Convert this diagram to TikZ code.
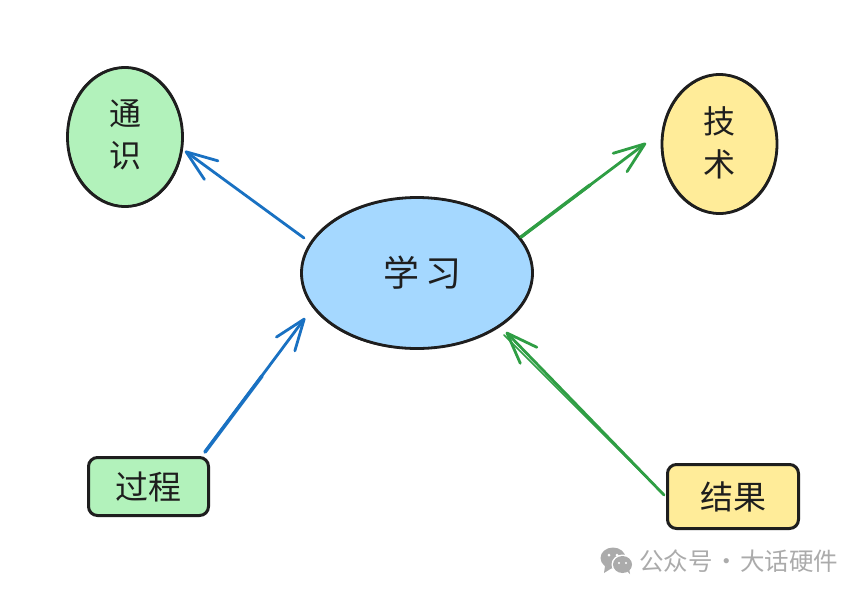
\documentclass[tikz,border=0pt]{standalone}
\usepackage{fontspec}
\setmainfont{Noto Sans CJK SC}
\usetikzlibrary{shapes.geometric,arrows.meta}
\definecolor{inkc}{HTML}{1E1E1E}
\definecolor{greenf}{HTML}{B2F2BB}
\definecolor{yellowf}{HTML}{FFEC99}
\definecolor{bluef}{HTML}{A5D8FF}
\definecolor{bluel}{HTML}{1971C2}
\definecolor{greenl}{HTML}{2F9E44}
\definecolor{markc}{HTML}{ABABAB}
\tikzset{
  roundnode/.style={ellipse,draw=inkc,line width=2.8pt,inner sep=0pt,text=inkc,align=center,font=\fontsize{32}{43}\selectfont},
  boxnode/.style={rectangle,rounded corners=9pt,draw=inkc,line width=3pt,inner sep=0pt,text=inkc,font=\fontsize{33}{38}\selectfont},
  conn/.style={line width=2.8pt,line cap=round,line join=round,-{Straight Barb[length=31pt,width=23pt,line width=2.8pt,round]}},
  overstroke/.style={line width=2.2pt,line cap=round},
  sketchring/.style={draw=inkc,line width=1.6pt},
}
\begin{document}
\begin{tikzpicture}[x=1pt,y=-1pt]
\useasboundingbox (0,0) rectangle (866,595);
\fill[white] (0,0) rectangle (866,595);
\node[roundnode,fill=greenf,minimum width=115pt,minimum height=139pt] (tongshi) at (125,137) {\raisebox{7pt}{\shortstack{通\\[10pt]识}}};
\node[roundnode,fill=yellowf,minimum width=115pt,minimum height=139pt] (jishu) at (719.5,144) {\raisebox{5pt}{\shortstack{技\\[10pt]术}}};
\node[roundnode,fill=bluef,minimum width=231pt,minimum height=151pt,font=\fontsize{36}{43}\selectfont] (xuexi) at (417,273) {\hspace{11pt}学\hspace{7pt}习};
\node[boxnode,fill=greenf,minimum width=120pt,minimum height=58pt] (guocheng) at (148.5,486.5) {过程};
\node[boxnode,fill=yellowf,minimum width=131pt,minimum height=64pt] (jieguo) at (733,496.5) {结果};
% second pass of the pen on the round outlines
\draw[sketchring,rotate around={4:(125,137)}] (125,137) ellipse [x radius=57.5pt,y radius=69.5pt];
\draw[sketchring,rotate around={-4:(719.5,144)}] (719.5,144) ellipse [x radius=57.5pt,y radius=69.5pt];
\draw[sketchring,rotate around={1:(417,273)}] (417,273) ellipse [x radius=115.5pt,y radius=75.5pt];
\coordinate (a1) at (304,238);
\coordinate (a2) at (185,151);
\coordinate (b1) at (521,237);
\coordinate (b2) at (646,143);
\coordinate (c1) at (205,452);
\coordinate (c2) at (305,318);
\coordinate (d1) at (664,495);
\coordinate (d2) at (506,332);
\coordinate (b3) at (590,185);
\coordinate (c3) at (262,376);
\coordinate (d3) at (504,335);
\draw[conn,draw=bluel] (a1) -- (a2);
\draw[conn,draw=greenl] (b1) -- (b2);
\draw[conn,draw=bluel] (c1) -- (c2);
\draw[conn,draw=greenl] (d1) -- (d2);
\draw[overstroke,draw=greenl,line width=3.4pt] (b1) -- (b3);
\draw[overstroke,draw=bluel,line width=3.6pt] (c1) -- (c3);
\draw[line width=1.6pt,line cap=round,draw=greenl] (d1) -- (d3);
% watermark
\fill[markc] (613,558) ellipse [x radius=12.5pt,y radius=10.5pt];
\fill[markc] (605,566) -- (604,573) -- (612,568) -- cycle;
\fill[white] (622.5,564.5) ellipse [x radius=11pt,y radius=10pt];
\fill[markc] (622.5,564.5) ellipse [x radius=9.5pt,y radius=8.5pt];
\fill[markc] (627,571) -- (630,574) -- (629,568) -- cycle;
\fill[white] (609,555) circle (1.5pt) (617,555) circle (1.5pt) (619,563) circle (1.2pt) (626,563) circle (1.2pt);
\node[text=markc,anchor=west,inner sep=0pt,font=\fontsize{24.5}{26}\selectfont] (mark) at (639,561) {公众号\hspace{1.5pt}·\hspace{1.5pt}大话硬件};
\end{tikzpicture}
\end{document}
